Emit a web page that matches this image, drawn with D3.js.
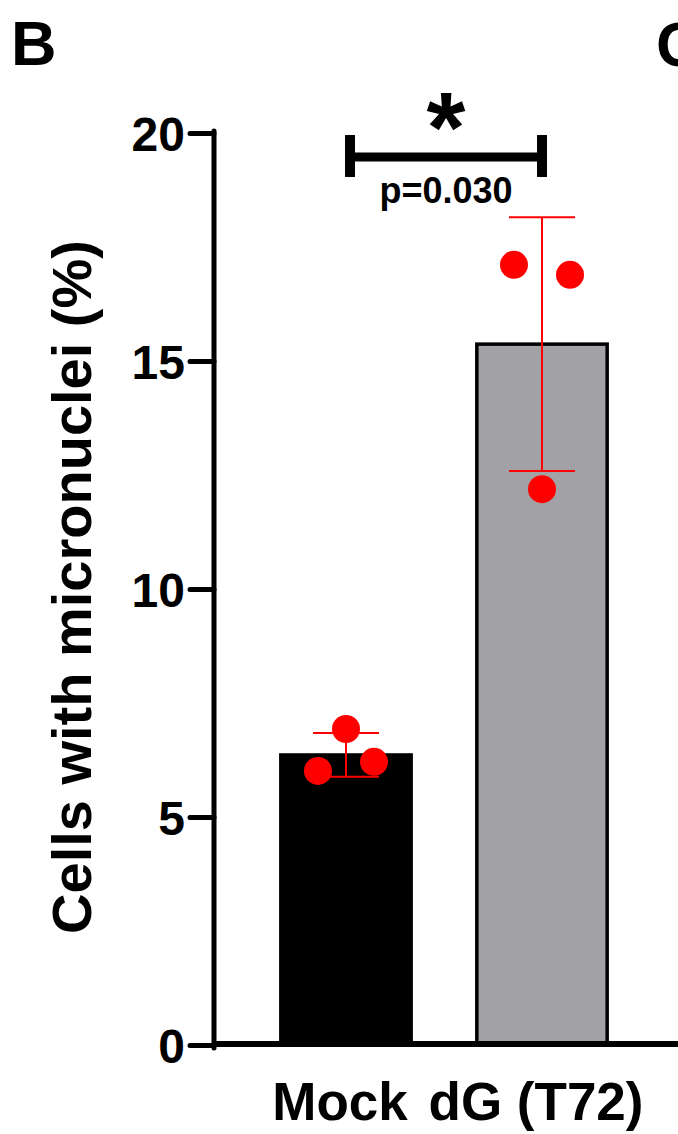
<!DOCTYPE html>
<html>
<head>
<meta charset="utf-8">
<script src="https://cdn.jsdelivr.net/npm/d3@7"></script>
<style>
  html, body { margin: 0; padding: 0; background: #fff; }
  svg { display: block; }
  text { font-family: "Liberation Sans", Arial, Helvetica, sans-serif; font-weight: bold; fill: #000; }
</style>
</head>
<body>
<svg id="chart" width="678" height="1134"></svg>
<script>
// ---- data ----
const categories = ["Mock", "dG (T72)"];
const means = [6.36, 15.37];
const sds = [0.48, 2.78];
const points = [[6.01, 6.93, 6.21], [17.11, 16.89, 12.19]];
const jitter = [[-0.215, 0, 0.215], [-0.215, 0.215, 0]]; // fraction of bar width
const yTicks = [0, 5, 10, 15, 20];
const barColors = ["#000000", "#a2a1a5"];
const pValueLabel = "p=0.030";
const starLabel = "*";
const yTitle = "Cells with micronuclei (%)";

const svg = d3.select("#chart");

const x = d3.scaleBand().domain(categories).range([248, 640]).paddingInner(0.335).paddingOuter(0.1675);
const y = d3.scaleLinear().domain([0, 20]).range([1045, 133]);

// bars
svg.selectAll("rect.bar").data(categories).join("rect")
  .attr("class", "bar")
  .attr("x", d => x(d))
  .attr("y", (d, i) => y(means[i]))
  .attr("width", x.bandwidth())
  .attr("height", (d, i) => y(0) - y(means[i]))
  .attr("fill", (d, i) => barColors[i])
  .attr("stroke", "#000")
  .attr("stroke-width", 3.5);

// error bars
const cap = 33;
const eg = svg.append("g").attr("stroke", "#ff0000").attr("stroke-width", 2).attr("fill", "none");
categories.forEach((c, i) => {
  const cx = x(c) + x.bandwidth() / 2;
  const top = y(means[i] + sds[i]), bot = y(means[i] - sds[i]);
  eg.append("line").attr("x1", cx).attr("x2", cx).attr("y1", top).attr("y2", bot);
  eg.append("line").attr("x1", cx - cap).attr("x2", cx + cap).attr("y1", top).attr("y2", top);
  eg.append("line").attr("x1", cx - cap).attr("x2", cx + cap).attr("y1", bot).attr("y2", bot);
});

// points
categories.forEach((c, i) => {
  const cx = x(c) + x.bandwidth() / 2;
  svg.append("g").selectAll("circle").data(points[i]).join("circle")
    .attr("cx", (d, j) => cx + jitter[i][j] * x.bandwidth())
    .attr("cy", d => y(d))
    .attr("r", 14)
    .attr("fill", "#ff0000");
});

// y axis
const yAxis = d3.axisLeft(y).tickValues(yTicks).tickSize(24).tickPadding(5).tickFormat(d3.format("d"));
const ya = svg.append("g").attr("transform", "translate(214,0)").call(yAxis);
ya.select(".domain").remove();
ya.selectAll(".tick line").attr("stroke", "#000").attr("stroke-width", 5).attr("stroke-linecap", "round");
ya.selectAll(".tick text").attr("font-size", 48).attr("dy", "0.36em");
ya.append("line").attr("x1", 0).attr("x2", 0).attr("y1", y(20) - 2).attr("y2", y(0) + 3)
  .attr("stroke", "#000").attr("stroke-width", 5).attr("stroke-linecap", "round");

// x axis
const xAxis = d3.axisBottom(x).tickSize(0).tickPadding(0);
const xa = svg.append("g").attr("transform", "translate(0,1044)").call(xAxis);
xa.select(".domain").remove();
xa.append("line").attr("x1", 214).attr("x2", 700).attr("y1", 0).attr("y2", 0)
  .attr("stroke", "#000").attr("stroke-width", 6);
xa.selectAll(".tick text").attr("font-size", 53).attr("y", 76).attr("dy", 0).attr("dx", -6);

// y title
svg.append("text")
  .attr("transform", `translate(91,${587}) rotate(-90)`)
  .attr("text-anchor", "middle")
  .attr("font-size", 56)
  .text(yTitle);

// panel letters
svg.append("text").attr("x", 11).attr("y", 65).attr("font-size", 63).text("B");
svg.append("text").attr("x", 656).attr("y", 66).attr("font-size", 63).text("C");

// significance bracket
const x1 = x(categories[0]) + x.bandwidth() / 2 + 4;
const x2 = x(categories[1]) + x.bandwidth() / 2;
const by = 157;
const bg = svg.append("g").attr("stroke", "#000").attr("fill", "none");
bg.append("line").attr("x1", x1).attr("x2", x2).attr("y1", by).attr("y2", by).attr("stroke-width", 9);
bg.append("line").attr("x1", x1).attr("x2", x1).attr("y1", 135).attr("y2", 177).attr("stroke-width", 10);
bg.append("line").attr("x1", x2).attr("x2", x2).attr("y1", 135).attr("y2", 177).attr("stroke-width", 10);
svg.append("text").attr("x", (x1 + x2) / 2).attr("y", 203).attr("text-anchor", "middle")
  .attr("font-size", 36).text(pValueLabel);
svg.append("text").attr("x", (x1 + x2) / 2).attr("y", 162).attr("text-anchor", "middle")
  .attr("font-size", 100).text(starLabel);
</script>
</body>
</html>
